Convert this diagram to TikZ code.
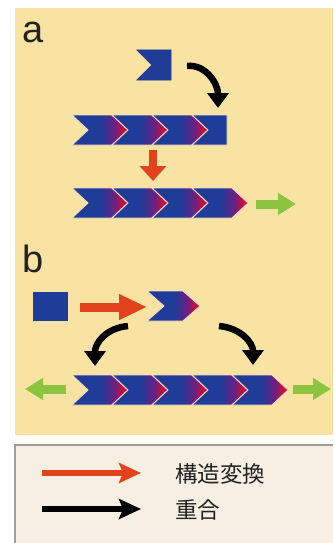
\documentclass[tikz,border=0pt]{standalone}
\usepackage{fontspec}
\setmainfont{Liberation Sans}
\newfontfamily\cjk{Noto Sans CJK JP}
\usetikzlibrary{arrows.meta}
\definecolor{bgy}{HTML}{F8E3A3}
\definecolor{cblue}{HTML}{1F3C98}
\definecolor{cpurp}{HTML}{6E1F82}
\definecolor{cred}{HTML}{D0103A}
\definecolor{arred}{HTML}{E2431C}
\definecolor{argreen}{HTML}{8CC43F}
\definecolor{legbg}{HTML}{F6EFE2}
\definecolor{edgec}{HTML}{F8DCC4}
\definecolor{lblc}{HTML}{222222}
\pgfdeclarehorizontalshading{chevsh}{100bp}{color(0bp)=(cblue); color(25bp)=(cblue); color(51bp)=(cblue); color(63bp)=(cpurp); color(71bp)=(cred); color(100bp)=(cred)}
\tikzset{
  unitpt/.style={draw=edgec, line width=0.9pt, shade, shading=chevsh},
  unitflat/.style={draw=edgec, line width=0.9pt, fill=cblue},
  pics/chevpt/.style={code={\path[unitpt] (0,-15) -- (40,-15) -- (56,0) -- (40,15) -- (0,15) -- (16,0) -- cycle;}},
  pics/chevflat/.style={code={\path[unitflat] (0,-15) -- (35,-15) -- (35,15) -- (0,15) -- (16,0) -- cycle;}},
  redarr/.style={draw=arred, line width=8pt, -{Triangle[width=26pt,length=15pt]}},
  blkarr/.style={draw=black, line width=6.5pt, -{Triangle[width=21pt,length=15pt]}},
  grnarr/.style={draw=argreen, line width=9pt, -{Triangle[width=21pt,length=18pt]}},
  legarr/.style={line width=6.5pt, -{Stealth[width=20pt,length=22pt,inset=4pt]}},
  lbl/.style={anchor=base west, inner sep=0pt, text=lblc, font=\fontsize{38}{40}\selectfont},
  legtxt/.style={anchor=west, inner sep=0pt, text=lblc, font=\cjk\fontsize{22.5}{24}\selectfont},
}
\begin{document}
\begin{tikzpicture}[x=1pt,y=-1pt]
\useasboundingbox (0,0) rectangle (333,543);
\clip (0,0) rectangle (333,543);
\fill[white] (0,0) rectangle (333,543);
% panels background
\fill[bgy] (15,8) rectangle (333,435);
% legend box
\draw[gray!75, line width=1.2pt, fill=legbg] (15,445) rectangle (345,560);

% ---------- panel a ----------
\node[lbl] (la) at (22,42) {a};
\path[unitflat, draw=cblue] (137,50) -- (171,50) -- (171,80) -- (137,80) -- (152,65) -- cycle;
\pic at (72,130) {chevpt};
\pic at (112,130) {chevpt};
\pic at (152,130) {chevpt};
\pic at (192,130) {chevflat};
\coordinate (a1s) at (187,66);
\coordinate (a1e) at (218,108);
\draw[blkarr] (a1s) .. controls (206,64) and (218,84) .. (a1e);
\coordinate (a2s) at (153,150);
\coordinate (a2e) at (153,181);
\draw[redarr] (a2s) -- (a2e);
\pic at (72,203) {chevpt};
\pic at (112,203) {chevpt};
\pic at (152,203) {chevpt};
\pic at (192,203) {chevpt};
\coordinate (a3s) at (256,204);
\coordinate (a3e) at (296,204);
\draw[grnarr] (a3s) -- (a3e);

% ---------- panel b ----------
\node[lbl] (lb) at (22,272) {b};
\fill[cblue] (33,292) rectangle (68,321);
\coordinate (b1s) at (80,307);
\coordinate (b1e) at (147,307);
\draw[redarr, line width=9pt, -{Triangle[width=24pt,length=28pt]}] (b1s) -- (b1e);
\path[unitpt] (147,291) -- (183,291) -- (200,306) -- (183,321) -- (147,321) -- (164,306) -- cycle;
\coordinate (b2s) at (128,326);
\coordinate (b2e) at (95,366);
\draw[blkarr] (b2s) .. controls (106,328) and (95,343) .. (b2e);
\coordinate (b3s) at (219,326);
\coordinate (b3e) at (253,365);
\draw[blkarr] (b3s) .. controls (241,328) and (253,343) .. (b3e);
\pic at (72,390) {chevpt};
\pic at (112,390) {chevpt};
\pic at (152,390) {chevpt};
\pic at (192,390) {chevpt};
\pic at (232,390) {chevpt};
\coordinate (b4s) at (66,389);
\coordinate (b4e) at (25,389);
\draw[grnarr] (b4s) -- (b4e);
\coordinate (b5s) at (293,389);
\coordinate (b5e) at (331,389);
\draw[grnarr] (b5s) -- (b5e);

% ---------- legend ----------
\coordinate (l1s) at (42,473);
\coordinate (l1e) at (141,473);
\draw[legarr, draw=arred] (l1s) -- (l1e);
\node[legtxt] (t1) at (175,474) {構造変換};
\coordinate (l2s) at (42,509);
\coordinate (l2e) at (141,509);
\draw[legarr, draw=black] (l2s) -- (l2e);
\node[legtxt] (t2) at (175,510) {重合};
\end{tikzpicture}
\end{document}
